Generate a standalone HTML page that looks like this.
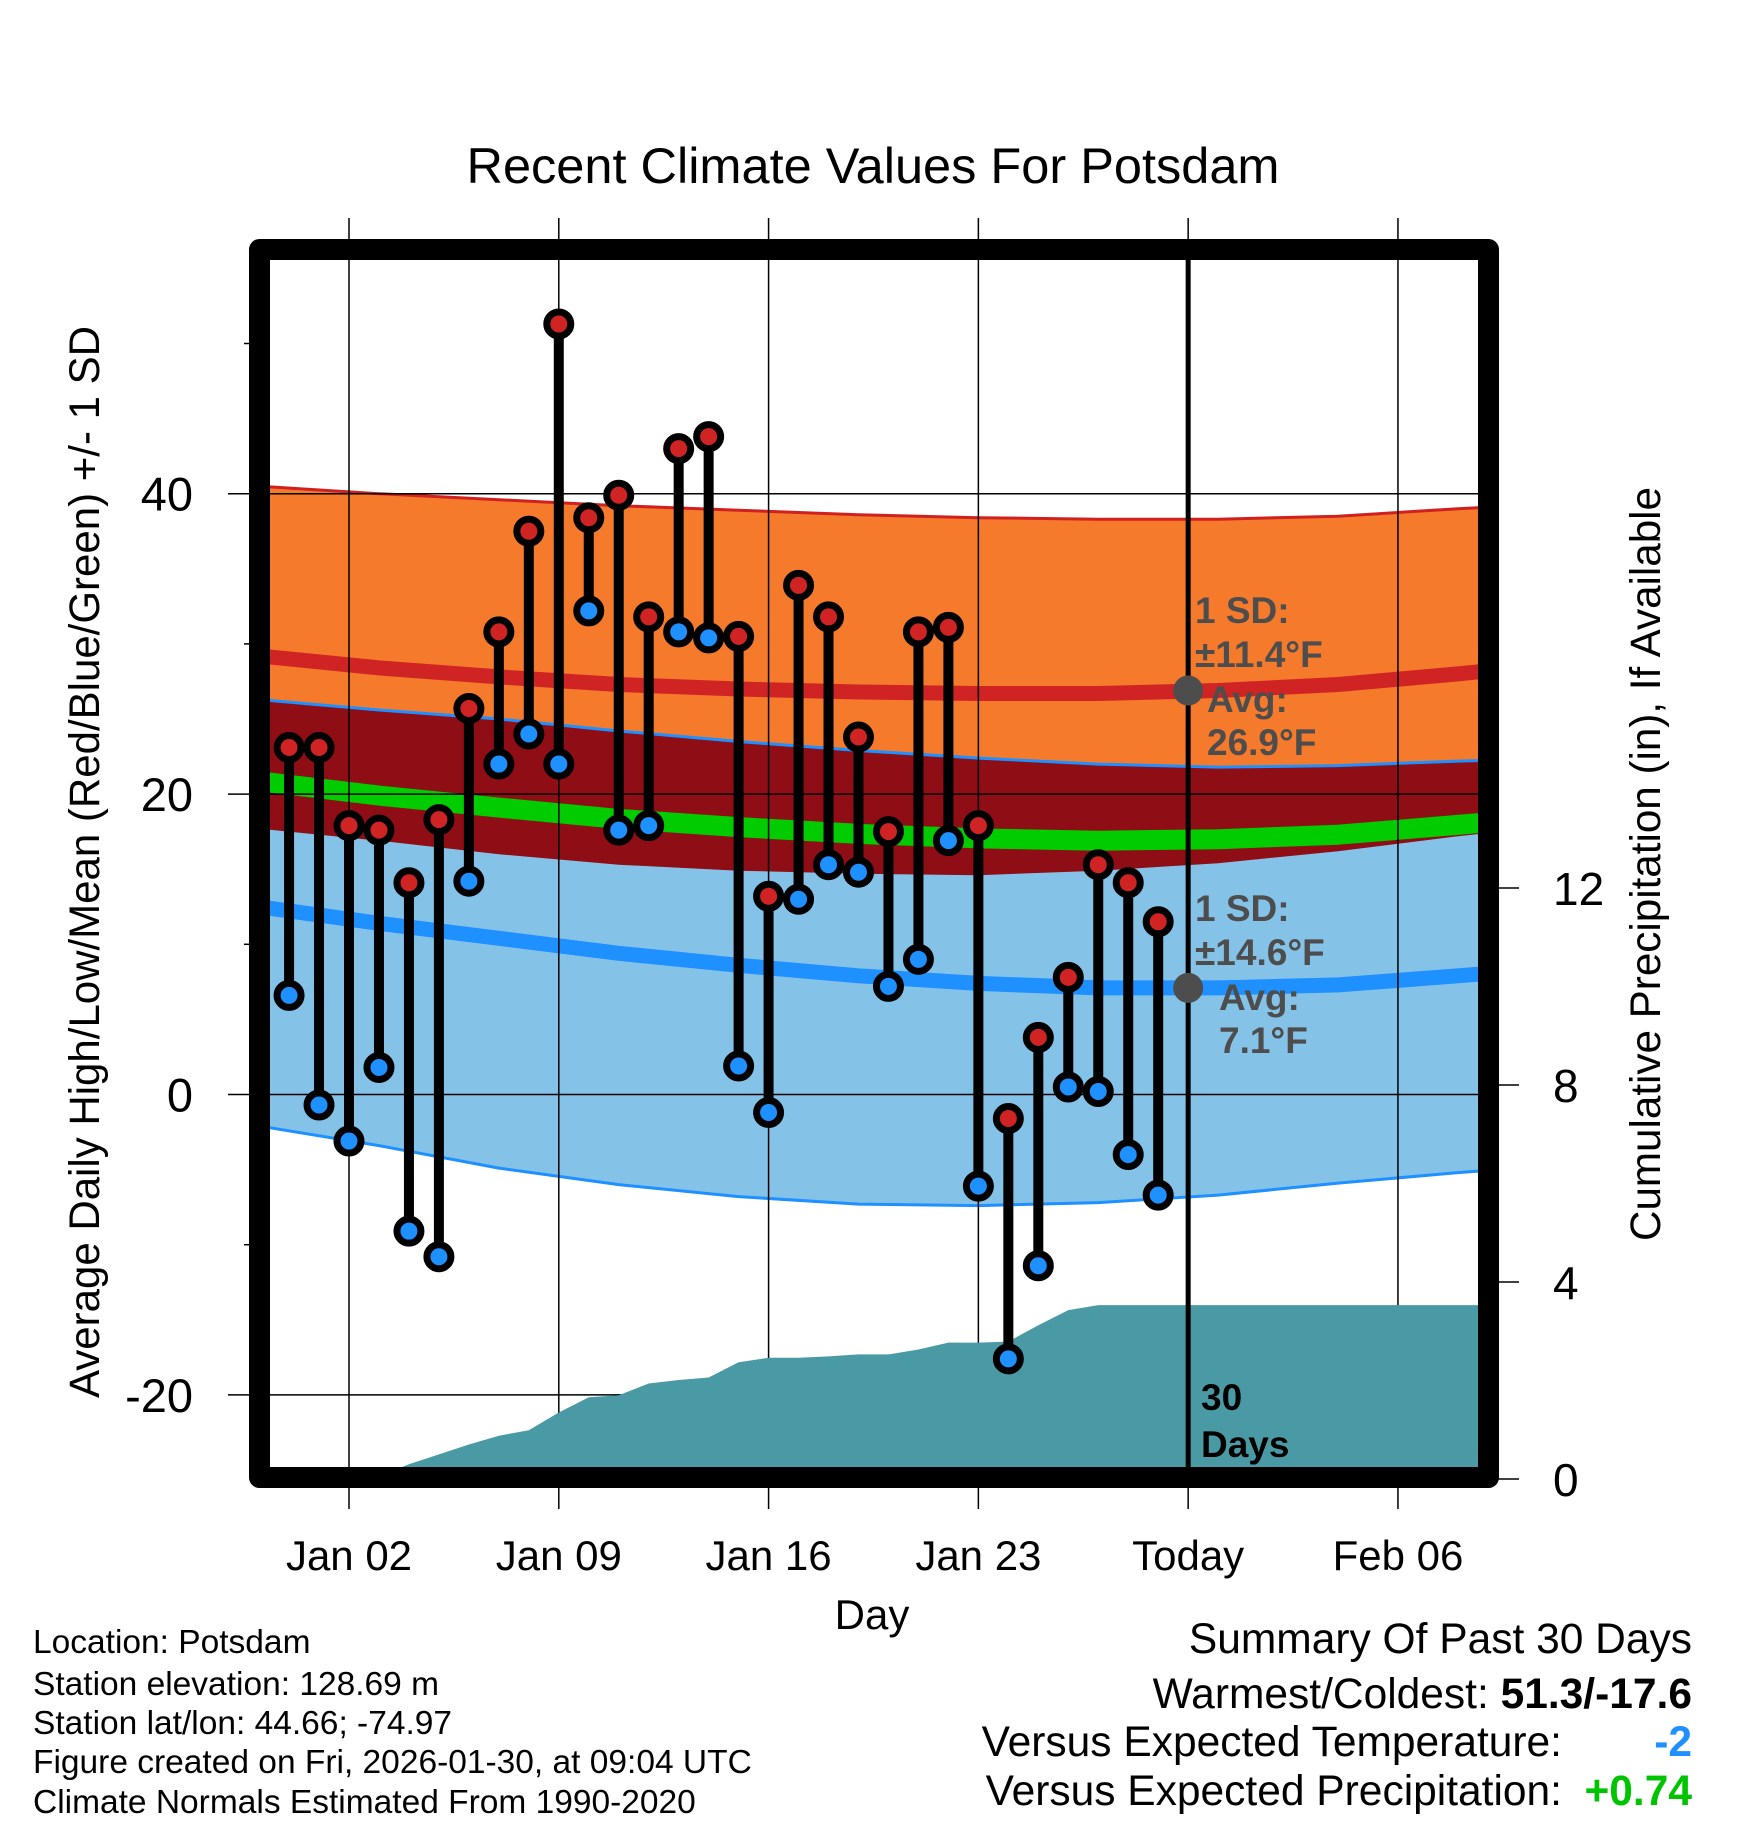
<!DOCTYPE html>
<html><head><meta charset="utf-8"><style>
html,body{margin:0;padding:0;background:#fff}
svg{display:block}
text{font-family:"Liberation Sans",Arial,sans-serif}
</style></head><body>
<svg id="chart" width="1748" height="1828" viewBox="0 0 1748 1828" xmlns="http://www.w3.org/2000/svg">
<defs><clipPath id="plotclip"><rect x="270" y="260" width="1208" height="1208"/></clipPath></defs>
<text x="873" y="183" font-size="50.5" text-anchor="middle">Recent Climate Values For Potsdam</text>
<g id="bands" clip-path="url(#plotclip)"></g>
<g id="grid"></g>
<g id="precip" clip-path="url(#plotclip)"></g>
<g id="marks"></g>
<g id="annot"></g>
<rect x="259.5" y="249.5" width="1229" height="1228" fill="none" stroke="#000" stroke-width="21" stroke-linejoin="round"/>
<g id="axes"></g>
<text transform="translate(99,862) rotate(-90)" font-size="43" text-anchor="middle" textLength="1072" lengthAdjust="spacingAndGlyphs">Average Daily High/Low/Mean (Red/Blue/Green) +/- 1 SD</text>
<text transform="translate(1660,864) rotate(-90)" font-size="43" text-anchor="middle" textLength="754" lengthAdjust="spacingAndGlyphs">Cumulative Precipitation (in), If Available</text>
<text x="872" y="1629" font-size="42" text-anchor="middle">Day</text>
<g font-size="33.5">
<text x="33" y="1653">Location: Potsdam</text>
<text x="33" y="1695">Station elevation: 128.69 m</text>
<text x="33" y="1734">Station lat/lon: 44.66; -74.97</text>
<text x="33" y="1773">Figure created on Fri, 2026-01-30, at 09:04 UTC</text>
<text x="33" y="1813">Climate Normals Estimated From 1990-2020</text>
</g>
<g font-size="42.5">
<text x="1692" y="1653" text-anchor="end">Summary Of Past 30 Days</text>
<text x="1692" y="1708" text-anchor="end">Warmest/Coldest: <tspan font-weight="bold">51.3/-17.6</tspan></text>
<text x="1562" y="1756" text-anchor="end">Versus Expected Temperature:</text>
<text x="1692" y="1756" text-anchor="end" font-weight="bold" fill="#1e90ff">-2</text>
<text x="1562" y="1805" text-anchor="end">Versus Expected Precipitation:</text>
<text x="1692" y="1805" text-anchor="end" font-weight="bold" fill="#00c400">+0.74</text>
</g>
</svg>
<script>
const highs=[23.1,23.1,17.9,17.6,14.1,18.3,25.7,30.8,37.5,51.3,38.4,39.9,31.8,43.0,43.8,30.5,13.2,33.9,31.8,23.8,17.5,30.8,31.1,17.9,-1.6,3.8,7.8,15.3,14.1,11.5];
const lows=[6.6,-0.7,-3.1,1.8,-9.1,-10.8,14.2,22.0,24.0,22.0,32.2,17.6,17.9,30.8,30.4,1.9,-1.2,13.0,15.3,14.8,7.2,9.0,16.9,-6.1,-17.6,-11.4,0.5,0.2,-4.0,-6.7];
const precipCum=[0,0,0,0.05,0.3,0.5,0.7,0.88,0.99,1.35,1.66,1.70,1.94,2.01,2.06,2.37,2.46,2.46,2.49,2.53,2.53,2.63,2.77,2.77,2.79,3.12,3.43,3.53,3.53,3.53];
const normDays=[-1,3,7,11,15,19,23,27,31,35,39,41];
const normHigh=[29.2,28.4,27.8,27.3,27.0,26.8,26.7,26.7,26.9,27.3,28.0,28.4];
const highUpper=[40.5,40.0,39.6,39.2,38.9,38.6,38.4,38.3,38.3,38.5,39.0,39.2];
const highLower=[17.7,16.9,16.0,15.3,14.9,14.7,14.6,14.9,15.4,16.2,17.2,17.6];
const normLow=[12.5,11.4,10.4,9.4,8.6,7.9,7.4,7.1,7.1,7.3,7.9,8.2];
const lowUpper=[26.3,25.6,25.0,24.2,23.5,22.9,22.4,22.0,21.8,21.9,22.2,22.3];
const lowLower=[-2.1,-3.4,-4.9,-6.0,-6.8,-7.3,-7.4,-7.2,-6.7,-5.9,-5.2,-4.9];
const sdHigh=11.4, sdLow=14.6, todayHigh=26.9, todayLow=7.1;
const xTickDays=[2,9,16,23,30,37];
const xTickLabels=["Jan 02","Jan 09","Jan 16","Jan 23","Today","Feb 06"];
const yTicks=[40,20,0,-20];
const yMinor=[50,30,10,-10];
const pTicks=[0,4,8,12];
const todayDay=30;

const NS="http://www.w3.org/2000/svg";
const X=d=>349+(d-2)*29.97;
const Y=t=>1094.5-15.02*t;
const P=v=>1479-49.25*v;
const LEFT=-1,RIGHT=40.5;
function mk(tag,attrs,parent){const e=document.createElementNS(NS,tag);for(const k in attrs)e.setAttribute(k,attrs[k]);parent.appendChild(e);return e;}
const bands=document.getElementById('bands'),grid=document.getElementById('grid'),precip=document.getElementById('precip'),marks=document.getElementById('marks'),annot=document.getElementById('annot'),axes=document.getElementById('axes');
function pts(arr){return normDays.map((d,i)=>X(d).toFixed(1)+','+Y(arr[i]).toFixed(1));}
function band(top,bot,fill,name){
  const e=mk('polygon',{points:pts(top).concat(pts(bot).reverse()).join(' '),fill:fill},bands);
  
  
}
band(highUpper,highLower,'#f57a2c','high-sd-band');
band(lowUpper,lowLower,'#85c2e8','low-sd-band');
band(lowUpper,highLower,'#8f0d14','overlap-band');
function line(arr,color,w,name){
  const e=mk('polyline',{points:pts(arr).join(' '),fill:'none',stroke:color,'stroke-width':w,'stroke-linejoin':'round'},bands);
  
  
}
line(highUpper,'#d02020',3,'high-sd-upper-line');
line(lowUpper,'#1e90ff',3,'low-sd-upper-line');
line(lowLower,'#1e90ff',3,'low-sd-lower-line');
line(normHigh,'#d02424',15,'normal-high-line');
line(normLow,'#1e90ff',15,'normal-low-line');
const normMean=normHigh.map((h,i)=>(h+normLow[i])/2);
line(normMean,'#00cc00',20,'normal-mean-line');
xTickDays.forEach((d,i)=>{
  const g=mk('line',{x1:X(d),x2:X(d),y1:218,y2:1509,stroke:'#000','stroke-width':1.5},grid);
  
  
  const t=mk('text',{x:X(d),y:1570,'font-size':42,'text-anchor':'middle'},axes);
  t.textContent=xTickLabels[i];
  
  
});
yTicks.forEach(v=>{
  const g=mk('line',{x1:228,x2:1478,y1:Y(v),y2:Y(v),stroke:'#000','stroke-width':1.5},grid);
  
  
  const t=mk('text',{x:193,y:Y(v)+17,'font-size':47,'text-anchor':'end'},axes);
  t.textContent=v;
  
  
});
yMinor.forEach(v=>{
  const g=mk('line',{x1:244,x2:252,y1:Y(v),y2:Y(v),stroke:'#000','stroke-width':1.5},axes);
  
  
});
pTicks.forEach(v=>{
  const g=mk('line',{x1:1496,x2:1519,y1:P(v),y2:P(v),stroke:'#000','stroke-width':1.5},axes);
  
  
  const t=mk('text',{x:1553,y:P(v)+17,'font-size':46},axes);
  t.textContent=v;
  
  
});
{
  let p=[X(LEFT)+','+P(0)];
  precipCum.forEach((v,i)=>p.push(X(i).toFixed(1)+','+P(v).toFixed(1)));
  p.push(X(RIGHT)+','+P(precipCum[precipCum.length-1]).toFixed(1));
  p.push(X(RIGHT)+','+(P(0)+20));
  p.push(X(LEFT)+','+(P(0)+20));
  const e=mk('polygon',{points:p.join(' '),fill:'#4a9aa5'},precip);
  
  
}
highs.forEach((h,i)=>{
  const x=X(i);
  const s=mk('line',{x1:x,x2:x,y1:Y(h),y2:Y(lows[i]),stroke:'#000','stroke-width':10},marks);
  
  
});
highs.forEach((h,i)=>{
  const x=X(i);
  const a=mk('circle',{cx:x,cy:Y(h),r:12,fill:'#d02424',stroke:'#000','stroke-width':7},marks);
  
  
  const b=mk('circle',{cx:x,cy:Y(lows[i]),r:12,fill:'#1e90ff',stroke:'#000','stroke-width':7},marks);
  
  
});
{
  const tl=mk('line',{x1:X(todayDay),x2:X(todayDay),y1:260,y2:1468,stroke:'#000','stroke-width':5},annot);
  
  
  const d1=mk('circle',{cx:X(todayDay),cy:Y(todayHigh),r:15,fill:'#4d4d4d'},annot);
  
  
  const d2=mk('circle',{cx:X(todayDay),cy:Y(todayLow),r:15,fill:'#4d4d4d'},annot);
  
  
  const lines=[
    [1195,623,'1 SD:'],[1195,667,'±'+sdHigh.toFixed(1)+'°F'],[1207,712,'Avg:'],[1207,755,todayHigh.toFixed(1)+'°F'],
    [1195,921,'1 SD:'],[1195,965,'±'+sdLow.toFixed(1)+'°F'],[1219,1010,'Avg:'],[1219,1053,todayLow.toFixed(1)+'°F']
  ];
  lines.forEach(l=>{
    const t=mk('text',{x:l[0],y:l[1],'font-size':37,'font-weight':'bold',fill:'#4d4d4d'},annot);
    t.textContent=l[2];
    
    
  });
  const a=mk('text',{x:1201,y:1410,'font-size':37,'font-weight':'bold',fill:'#000'},annot);
  a.textContent='30';
  
  
  const b=mk('text',{x:1201,y:1457,'font-size':37,'font-weight':'bold',fill:'#000'},annot);
  b.textContent='Days';
  
  
}
</script>
</body></html>
